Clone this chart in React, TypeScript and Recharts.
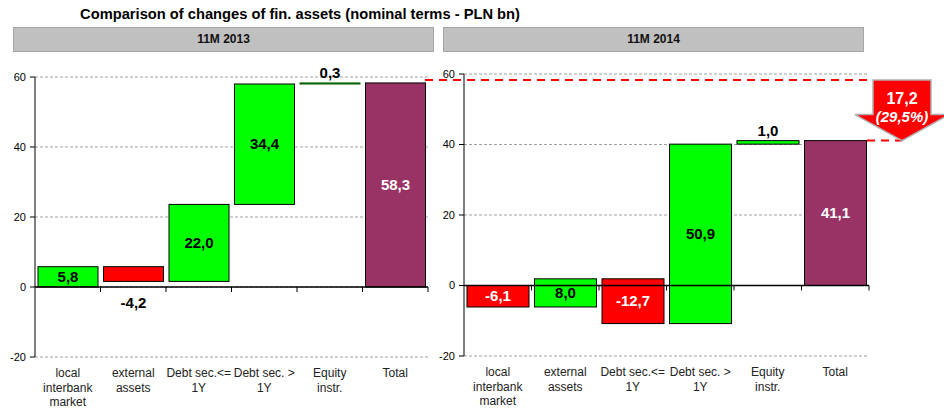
import { BarChart, Bar, XAxis, YAxis, CartesianGrid, ReferenceLine, ReferenceArea } from 'recharts';

// categories shared by both panels ("\n" = line break in the axis label)
const categories = [
    'local\ninterbank\nmarket',
    'external\nassets',
    'Debt sec.<=\n1Y',
    'Debt sec. >\n1Y',
    'Equity\ninstr.',
    'Total',
];
const changes2013 = [5.8, -4.2, 22.0, 34.4, 0.3];
const changes2014 = [-6.1, 8.0, -12.7, 50.9, 1.0];
const totals = [58.3, 41.1];
const panelTitles = ['11M 2013', '11M 2014'];
const chartTitle = 'Comparison of changes of fin. assets (nominal terms - PLN bn)';
const yTicks = [-20, 0, 20, 40, 60];

const GREEN = '#00FF00';
const RED = '#FF0000';
const PURPLE = '#993366';
const FONT = '"Liberation Sans", Arial, sans-serif';

type Row = {
    name: string;
    range: [number, number];
    delta: number;
    kind: 'up' | 'down' | 'total';
};

function buildRows(changes: number[], total: number): Row[] {
    let level = 0;
    const rows: Row[] = changes.map((d, i) => {
        const start = level;
        level += d;
        return {
            name: categories[i],
            range: [Math.min(start, level), Math.max(start, level)],
            delta: d,
            kind: d < 0 ? 'down' : 'up',
        };
    });
    rows.push({ name: categories[categories.length - 1], range: [0, total], delta: total, kind: 'total' });
    return rows;
}

const fmt = (v: number) => v.toFixed(1).replace('.', ',');

// bar + its value label
function WaterfallShape(props: any) {
    const { x, y, width, height, payload } = props;
    const row = payload as Row;
    const top = Math.min(y, y + height);
    const h = Math.abs(height);
    const fill = row.kind === 'total' ? PURPLE : row.kind === 'down' ? RED : GREEN;
    const cx = x + width / 2;

    let ly = top + h / 2 + 5;
    let color = row.kind === 'up' ? '#000' : '#fff';
    if (h < 8) {
        ly = top - 5;
        color = '#000';
    } else if (h < 16 && row.delta < 0) {
        ly = top + h + 27;
        color = '#000';
    }
    // very thin bars look dark green in the original
    const stroke = h < 3 ? '#005a00' : '#000';

    return (
        <g>
            <rect x={x} y={top} width={width} height={Math.max(h, 1)} fill={fill} stroke={stroke} strokeWidth={1} />
            <text x={cx} y={ly} textAnchor="middle" fontSize={15} fontWeight="bold" fill={color} fontFamily={FONT}>
                {fmt(row.delta)}
            </text>
        </g>
    );
}

function CategoryTick(props: any) {
    const { x, y, payload } = props;
    const lines = String(payload.value).split('\n');
    return (
        <text x={x} y={y + 12} textAnchor="middle" fontSize={12} fill="#222" fontFamily={FONT}>
            {lines.map((line, i) => (
                <tspan key={i} x={x} dy={i === 0 ? 0 : 14.5}>
                    {line}
                </tspan>
            ))}
        </text>
    );
}

// zero line with small tick marks between categories
function ZeroAxis(props: any) {
    const { x1, x2, y1 } = props;
    const n = categories.length;
    const step = (x2 - x1) / n;
    return (
        <g>
            <line x1={x1} x2={x2} y1={y1} y2={y1} stroke="#000" strokeWidth={1.5} />
            {categories.map((_, i) => (
                <line key={i} x1={x1 + (i + 1) * step} x2={x1 + (i + 1) * step} y1={y1} y2={y1 + 5} stroke="#000" />
            ))}
        </g>
    );
}

// dashed guides from both totals and the red "drop" arrow
function DropArrow(props: any) {
    const { x, y, width, height } = props;
    const plotRight = x + width;
    const top = y;
    const bottom = y + height;
    const cx = plotRight + 33;
    const shaft = 29;
    const wing = 47;
    const headTop = bottom - 26;
    const diff = totals[0] - totals[1];
    const pct = (diff / totals[0]) * 100;
    const path = `M${cx - shaft},${top} L${cx + shaft},${top} L${cx + shaft},${headTop} L${cx + wing},${headTop} L${cx},${bottom} L${cx - wing},${headTop} L${cx - shaft},${headTop} Z`;
    return (
        <g>
            <line x1={x - 39} x2={cx - shaft} y1={top} y2={top} stroke={RED} strokeWidth={2} strokeDasharray="8 6" />
            <line x1={plotRight - 2} x2={cx} y1={bottom} y2={bottom} stroke={RED} strokeWidth={2} strokeDasharray="8 6" />
            <path d={path} fill={RED} stroke="#b0b0b0" strokeWidth={1.5} />
            <text x={cx} y={top + 24} textAnchor="middle" fontSize={16} fontWeight="bold" fill="#fff" fontFamily={FONT}>
                {fmt(diff)}
            </text>
            <text x={cx} y={top + 42} textAnchor="middle" fontSize={15} fontWeight="bold" fontStyle="italic" fill="#fff" fontFamily={FONT}>
                ({fmt(pct)}%)
            </text>
        </g>
    );
}

interface PanelProps {
    rows: Row[];
    width: number;
    margin: { top: number; right: number; bottom: number; left: number };
    yAxisWidth: number;
    children?: any;
}

function Panel({ rows, width, margin, yAxisWidth, children }: PanelProps) {
    return (
        <BarChart width={width} height={408} data={rows} margin={margin} barCategoryGap={3}>
            <CartesianGrid vertical={false} stroke="#a0a0a0" strokeDasharray="3 2" />
            <XAxis dataKey="name" interval={0} axisLine={false} tickLine={false} height={40} tick={<CategoryTick />} />
            <YAxis
                type="number"
                domain={[-20, 60]}
                ticks={yTicks}
                width={yAxisWidth}
                axisLine={{ stroke: '#000' }}
                tickLine={{ stroke: '#000' }}
                tickSize={5}
                tickMargin={4}
                tick={{ fill: '#000', fontSize: 11, fontFamily: FONT }}
            />
            <Bar dataKey="range" isAnimationActive={false} shape={WaterfallShape} />
            <ReferenceLine y={0} shape={ZeroAxis} />
            {children}
        </BarChart>
    );
}

const headerStyle = {
    position: 'absolute' as const,
    top: 27,
    height: 23,
    width: 419,
    background: '#C0C0C0',
    border: '1px solid #a6a6a6',
    fontFamily: FONT,
    fontSize: 12,
    fontWeight: 'bold' as const,
    textAlign: 'center' as const,
    lineHeight: '23px',
    color: '#111',
};

export default function App() {
    const rows2013 = buildRows(changes2013, totals[0]);
    const rows2014 = buildRows(changes2014, totals[1]);

    return (
        <div style={{ position: 'absolute', left: 0, top: 0, width: 944, height: 408, background: '#fff', overflow: 'hidden' }}>
            <div
                style={{
                    position: 'absolute',
                    top: 6,
                    left: 0,
                    width: 600,
                    textAlign: 'center',
                    fontFamily: FONT,
                    fontSize: 14.7,
                    fontWeight: 'bold',
                    color: '#000',
                }}
            >
                {chartTitle}
            </div>
            <div style={{ ...headerStyle, left: 13 }}>{panelTitles[0]}</div>
            <div style={{ ...headerStyle, left: 443 }}>{panelTitles[1]}</div>

            <div style={{ position: 'absolute', left: 0, top: 0 }}>
                <Panel rows={rows2013} width={440} margin={{ top: 77, right: 12, bottom: 11, left: 5 }} yAxisWidth={30} />
            </div>
            <div style={{ position: 'absolute', left: 425, top: 0 }}>
                <Panel rows={rows2014} width={519} margin={{ top: 74, right: 75, bottom: 12, left: 6 }} yAxisWidth={33}>
                    <ReferenceArea y1={totals[1]} y2={totals[0]} ifOverflow="visible" shape={DropArrow} />
                </Panel>
            </div>
        </div>
    );
}
